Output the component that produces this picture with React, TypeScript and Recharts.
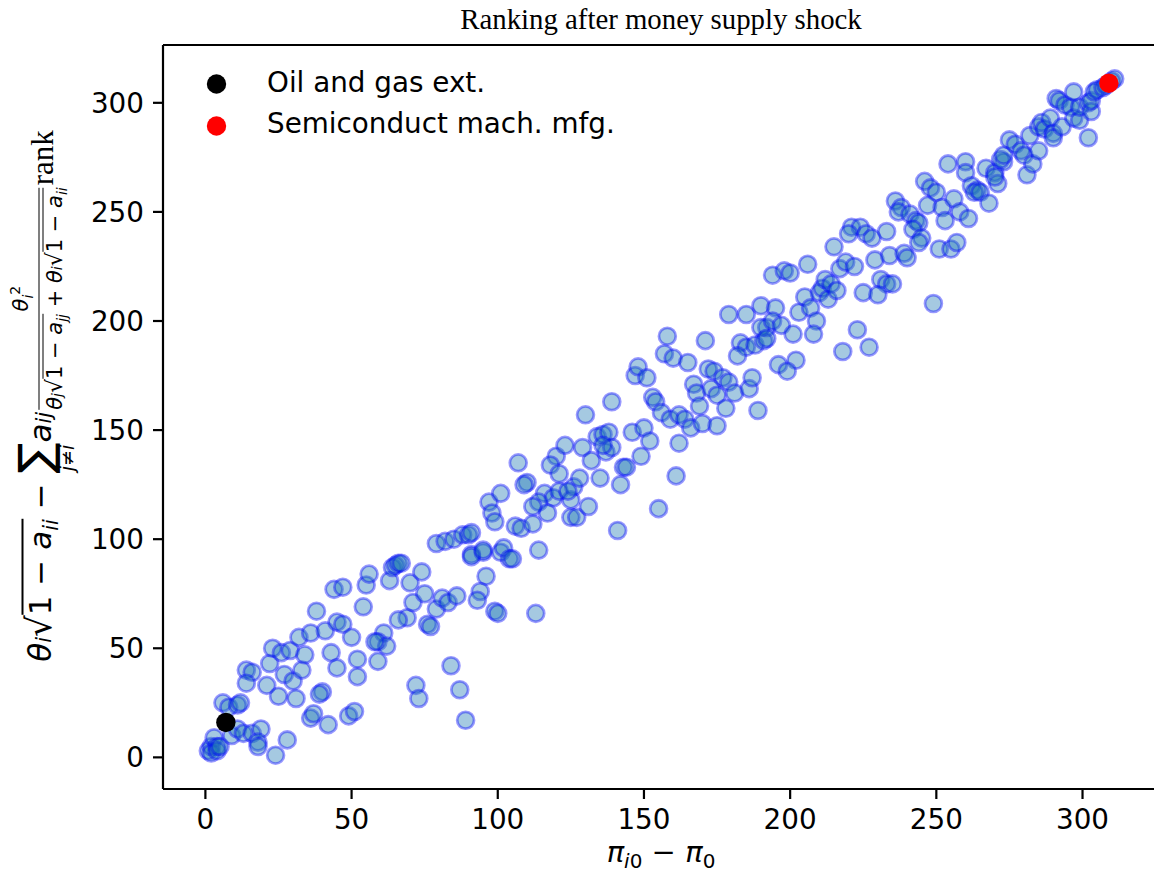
import React from 'react';
import { ScatterChart, Scatter, XAxis, YAxis, ReferenceLine } from 'recharts';

// ranks: x = pi_i0 - pi_0 rank, y = theta expression rank
const xRank = [
  1, 2, 2, 3, 4, 4, 5, 6, 8, 9, 11, 12, 11, 13, 16, 19, 18, 18, 24, 28,
  14, 16, 14, 21, 22, 23, 26, 29, 27, 30, 25, 31, 33, 34, 32, 36, 41, 38, 44, 47,
  45, 47, 50, 43, 45, 52, 52, 36, 37, 42, 49, 51, 40, 39, 59, 54, 55, 56, 63, 64,
  65, 66, 67, 70, 74, 61, 59, 62, 58, 69, 66, 71, 75, 76, 77, 79, 81, 83, 86, 79,
  82, 85, 88, 90, 91, 95, 101, 96, 94, 93, 99, 84, 87, 72, 73, 89, 100, 113, 91, 91,
  95, 97, 98, 99, 101, 102, 104, 105, 106, 108, 112, 107, 110, 109, 114, 116, 119, 121, 114, 117,
  112, 120, 118, 121, 123, 125, 125, 127, 126, 124, 128, 131, 129, 132, 134, 136, 138, 137, 139, 135,
  142, 143, 144, 146, 149, 141, 130, 139, 136, 147, 148, 151, 153, 154, 156, 159, 162, 164, 166, 170,
  150, 152, 162, 161, 155, 158, 157, 160, 165, 171, 172, 174, 177, 167, 168, 169, 173, 175, 178, 179,
  181, 186, 187, 189, 175, 183, 185, 188, 182, 191, 194, 198, 200, 196, 202, 199, 185, 190, 195, 192,
  190, 192, 194, 197, 201, 203, 205, 207, 209, 208, 179, 206, 215, 210, 211, 212, 213, 214, 216, 217,
  219, 222, 218, 223, 227, 225, 229, 234, 239, 231, 233, 235, 230, 221, 224, 220, 226, 228, 233, 240,
  236, 238, 237, 241, 243, 244, 242, 245, 244, 246, 248, 250, 247, 252, 256, 258, 253, 251, 255, 257,
  249, 254, 260, 260, 262, 264, 267, 270, 271, 273, 263, 265, 268, 261, 270, 272, 273, 275, 277, 279,
  280, 281, 283, 282, 285, 285, 286, 287, 289, 290, 290, 291, 292, 293, 294, 296, 297, 297, 299, 299,
  302, 303, 303, 302, 304, 305, 307, 308, 310, 311,
];
const yRank = [
  3, 5, 2, 9, 5, 3, 5, 25, 23, 10, 24, 25, 13, 11, 11, 13, 7, 5, 1, 8,
  40, 39, 34, 33, 43, 50, 48, 49, 38, 35, 28, 27, 40, 47, 55, 57, 58, 67, 77, 78,
  62, 61, 55, 48, 41, 45, 37, 18, 20, 15, 19, 21, 30, 29, 44, 69, 79, 84, 81, 87,
  88, 89, 89, 80, 85, 57, 53, 51, 53, 64, 63, 71, 75, 61, 60, 68, 73, 71, 74, 98,
  99, 100, 102, 102, 93, 94, 94, 83, 76, 72, 67, 42, 31, 33, 27, 17, 66, 66, 103, 92,
  95, 117, 112, 108, 121, 96, 91, 91, 106, 105, 107, 135, 126, 125, 95, 121, 119, 122, 117, 112,
  115, 138, 134, 130, 143, 118, 110, 110, 124, 122, 128, 115, 142, 136, 147, 148, 149, 140, 142, 128,
  125, 133, 133, 149, 138, 104, 157, 163, 143, 175, 179, 174, 165, 163, 158, 155, 157, 155, 151, 153,
  151, 145, 144, 129, 114, 193, 185, 183, 181, 191, 178, 177, 174, 171, 167, 161, 169, 166, 160, 172,
  167, 169, 174, 159, 152, 190, 188, 189, 184, 191, 221, 223, 222, 180, 182, 177, 203, 207, 206, 197,
  197, 192, 200, 198, 194, 204, 211, 206, 200, 194, 203, 226, 234, 213, 215, 219, 210, 217, 214, 224,
  227, 225, 186, 196, 188, 213, 228, 230, 231, 219, 217, 217, 212, 243, 243, 240, 240, 238, 241, 229,
  255, 252, 250, 249, 246, 245, 242, 238, 236, 264, 261, 259, 253, 252, 256, 250, 246, 233, 233, 236,
  208, 272, 273, 268, 262, 260, 270, 268, 263, 273, 259, 259, 254, 247, 266, 274, 276, 283, 281, 278,
  276, 267, 272, 285, 278, 289, 291, 288, 293, 286, 284, 302, 301, 289, 299, 298, 293, 305, 292, 298,
  300, 296, 301, 284, 305, 306, 307, 308, 310, 311,
];
const oilX = [7];
const oilY = [16];
const semiX = [309];
const semiY = [309];
const tickValues = [0, 50, 100, 150, 200, 250, 300];
const legendLabels = ['Oil and gas ext.', 'Semiconduct mach. mfg.'];
const titleText = 'Ranking after money supply shock';

const blueData = xRank.map((x, i) => ({ x, y: yRank[i] }));
const oilData = oilX.map((x, i) => ({ x, y: oilY[i] }));
const semiData = semiX.map((x, i) => ({ x, y: semiY[i] }));

const DOMAIN: [number, number] = [-14.5, 326.5];
const FONT = '"DejaVu Sans", sans-serif';

const BlueDot = (p: any) => (
  <circle cx={p.cx} cy={p.cy} r={8.4} fill="#1f77b4" fillOpacity={0.4}
    stroke="#0000ff" strokeOpacity={0.4} strokeWidth={2.8} />
);
const SolidDot = (color: string) => (p: any) => (
  <circle cx={p.cx} cy={p.cy} r={9.7} fill={color} stroke="none" />
);

const tickStyle = { fontSize: 27.8, fill: '#000', fontFamily: FONT };

const Rad = ({ children, small }: { children: React.ReactNode; small?: boolean }) => (
  <span style={{ display: 'inline-flex', alignItems: 'baseline' }}>
    <span style={{ fontSize: small ? '1.05em' : '1.1em' }}>√</span>
    <span style={{ borderTop: small ? '1.4px solid #000' : '2px solid #000', paddingTop: 1, lineHeight: 1 }}>{children}</span>
  </span>
);

const SUB_MAIN = 21;
const SUB_FRAC = 14;

const YLabel = () => (
  <div
    style={{
      position: 'absolute', left: 44, top: 396,
      transform: 'translate(-50%, -50%) rotate(-90deg)',
      whiteSpace: 'nowrap', fontFamily: FONT, fontSize: 31, color: '#000',
      display: 'flex', alignItems: 'center', lineHeight: 1,
    }}
  >
    <span style={{ display: 'inline-flex', alignItems: 'baseline' }}>
      <i>θ</i><sub style={{ fontSize: SUB_MAIN, fontStyle: 'italic' }}>i</sub>
      <Rad>1 − <i>a</i><sub style={{ fontSize: SUB_MAIN, fontStyle: 'italic' }}>ii</sub></Rad>
      <span>&nbsp;−&nbsp;</span>
      <span style={{ display: 'inline-flex', flexDirection: 'column', alignItems: 'center' }}>
        <span style={{ fontSize: 46, lineHeight: 1 }}>∑</span>
        <span style={{ fontSize: 19, fontStyle: 'italic', lineHeight: 1 }}>j<span style={{ fontStyle: 'normal' }}>≠</span>i</span>
      </span>
      <i>a</i><sub style={{ fontSize: SUB_MAIN, fontStyle: 'italic' }}>ij</sub>
    </span>
    <span style={{ display: 'inline-flex', flexDirection: 'column', alignItems: 'center', fontSize: 21, margin: '0 2px', position: 'relative', top: -6 }}>
      <span style={{ paddingBottom: 3 }}><i>θ</i><sub style={{ fontSize: SUB_FRAC, fontStyle: 'italic' }}>i</sub><sup style={{ fontSize: SUB_FRAC }}>2</sup></span>
      <span style={{ alignSelf: 'stretch', borderTop: '1.8px solid #000' }} />
      <span style={{ paddingTop: 3, display: 'inline-flex', alignItems: 'baseline' }}>
        <i>θ</i><sub style={{ fontSize: SUB_FRAC, fontStyle: 'italic' }}>j</sub>
        <Rad small>1 − <i>a</i><sub style={{ fontSize: SUB_FRAC, fontStyle: 'italic' }}>jj</sub></Rad>
        <span>&nbsp;+&nbsp;</span>
        <i>θ</i><sub style={{ fontSize: SUB_FRAC, fontStyle: 'italic' }}>i</sub>
        <Rad small>1 − <i>a</i><sub style={{ fontSize: SUB_FRAC, fontStyle: 'italic' }}>ii</sub></Rad>
      </span>
    </span>
    <span style={{ fontFamily: '"Liberation Serif", serif', fontSize: 31, position: 'relative', top: -2 }}>rank</span>
  </div>
);

export default function App() {
  return (
    <div style={{ position: 'absolute', left: 0, top: 0, width: 1154, height: 877, overflow: 'hidden', background: '#fff' }}>
      <ScatterChart width={1170} height={877} margin={{ top: 45, right: 10, bottom: 28, left: 0 }}>
        <XAxis type="number" dataKey="x" domain={DOMAIN} ticks={tickValues} allowDataOverflow
          height={60} tickSize={10} tickMargin={10} tick={tickStyle}
          axisLine={{ stroke: '#000', strokeWidth: 2.2 }} tickLine={{ stroke: '#000', strokeWidth: 2.2 }} />
        <YAxis type="number" dataKey="y" domain={DOMAIN} ticks={tickValues} allowDataOverflow
          width={163} tickSize={10} tickMargin={9} tick={tickStyle}
          axisLine={{ stroke: '#000', strokeWidth: 2.2 }} tickLine={{ stroke: '#000', strokeWidth: 2.2 }} />
        <ReferenceLine y={326.5} stroke="#000" strokeWidth={2.2} />
        <Scatter data={blueData} shape={BlueDot} isAnimationActive={false} />
        <Scatter data={oilData} shape={SolidDot('#000')} isAnimationActive={false} />
        <Scatter data={semiData} shape={SolidDot('#ff0000')} isAnimationActive={false} />
      </ScatterChart>
      <svg width={1154} height={877} style={{ position: 'absolute', left: 0, top: 0, pointerEvents: 'none' }}>
        <text x={661} y={29} textAnchor="middle" fontFamily='"Liberation Serif", serif' fontSize={28.8} fill="#000">{titleText}</text>
        <circle cx={216.5} cy={84} r={9.7} fill="#000" />
        <circle cx={216.5} cy={126} r={9.7} fill="#ff0000" />
        <text x={267} y={92} fontFamily={FONT} fontSize={27.8} fill="#000">{legendLabels[0]}</text>
        <text x={267} y={133} fontFamily={FONT} fontSize={27.8} fill="#000">{legendLabels[1]}</text>
        <text x={661} y={862} textAnchor="middle" fontFamily={FONT} fontSize={29} fill="#000">
          <tspan fontStyle="italic">π</tspan>
          <tspan fontSize={20} dy={6}><tspan fontStyle="italic">i</tspan>0</tspan>
          <tspan dy={-6}> − </tspan>
          <tspan fontStyle="italic">π</tspan>
          <tspan fontSize={20} dy={6}>0</tspan>
        </text>
      </svg>
      <YLabel />
    </div>
  );
}
